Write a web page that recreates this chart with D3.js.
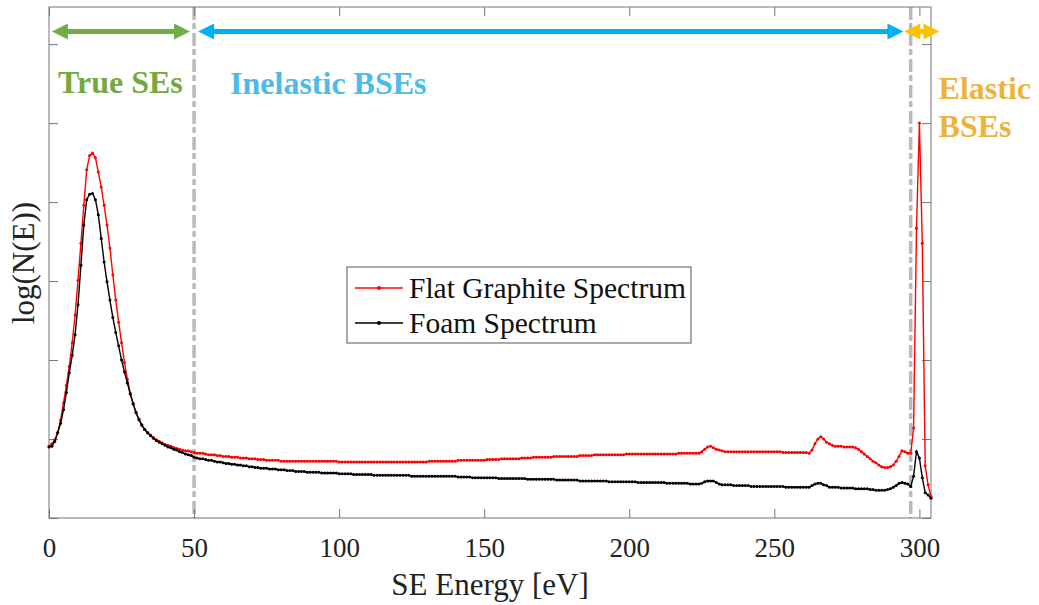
<!DOCTYPE html>
<html>
<head>
<meta charset="utf-8">
<script src="https://cdn.jsdelivr.net/npm/d3@7"></script>
<style>
  body { margin: 0; background: #fff; }
  svg { display: block; }
  text { font-family: "Liberation Serif", "Times New Roman", serif; }
</style>
</head>
<body>
<svg width="1039" height="605"></svg>
<script>
// energy grid (1 eV steps) and the two log spectra
var energy = d3.range(0, 305);

var flatGraphite = [
  0.91, 0.94, 0.99, 1.08, 1.24, 1.46, 1.68, 1.92, 2.22, 2.57,
  3.01, 3.48, 3.96, 4.41, 4.59, 4.62, 4.56, 4.38, 4.19, 3.96,
  3.71, 3.42, 3.08, 2.76, 2.48, 2.22, 1.97, 1.76, 1.58, 1.44,
  1.33, 1.24, 1.17, 1.12, 1.08, 1.05, 1.02, 0.99, 0.97, 0.95,
  0.93, 0.92, 0.91, 0.89, 0.88, 0.87, 0.86, 0.85, 0.85, 0.84,
  0.83, 0.82, 0.82, 0.82, 0.81, 0.80, 0.80, 0.80, 0.79, 0.79,
  0.78, 0.78, 0.78, 0.77, 0.77, 0.77, 0.76, 0.76, 0.76, 0.75,
  0.75, 0.75, 0.74, 0.74, 0.74, 0.73, 0.73, 0.73, 0.73, 0.73,
  0.72, 0.72, 0.72, 0.72, 0.72, 0.72, 0.72, 0.72, 0.72, 0.72,
  0.72, 0.72, 0.72, 0.72, 0.72, 0.72, 0.72, 0.72, 0.72, 0.72,
  0.71, 0.71, 0.71, 0.71, 0.71, 0.71, 0.71, 0.71, 0.71, 0.71,
  0.71, 0.71, 0.71, 0.71, 0.71, 0.71, 0.71, 0.71, 0.71, 0.71,
  0.71, 0.71, 0.71, 0.71, 0.71, 0.71, 0.71, 0.71, 0.71, 0.71,
  0.71, 0.72, 0.72, 0.72, 0.72, 0.72, 0.72, 0.72, 0.72, 0.72,
  0.72, 0.73, 0.73, 0.73, 0.73, 0.73, 0.73, 0.73, 0.73, 0.73,
  0.73, 0.74, 0.74, 0.74, 0.74, 0.74, 0.75, 0.75, 0.75, 0.75,
  0.75, 0.75, 0.75, 0.76, 0.76, 0.76, 0.76, 0.77, 0.77, 0.77,
  0.77, 0.77, 0.77, 0.77, 0.78, 0.78, 0.78, 0.78, 0.78, 0.78,
  0.78, 0.78, 0.78, 0.79, 0.79, 0.79, 0.79, 0.79, 0.80, 0.80,
  0.80, 0.80, 0.80, 0.80, 0.80, 0.80, 0.80, 0.80, 0.80, 0.81,
  0.81, 0.81, 0.81, 0.81, 0.81, 0.81, 0.81, 0.81, 0.81, 0.81,
  0.81, 0.81, 0.81, 0.81, 0.81, 0.81, 0.81, 0.82, 0.82, 0.82,
  0.82, 0.82, 0.82, 0.82, 0.82, 0.84, 0.87, 0.90, 0.91, 0.89,
  0.87, 0.86, 0.85, 0.84, 0.84, 0.84, 0.84, 0.84, 0.84, 0.84,
  0.84, 0.84, 0.84, 0.84, 0.84, 0.84, 0.84, 0.84, 0.84, 0.84,
  0.84, 0.84, 0.84, 0.83, 0.83, 0.83, 0.83, 0.83, 0.83, 0.83,
  0.83, 0.83, 0.82, 0.86, 0.94, 1.00, 1.03, 1.00, 0.96, 0.94,
  0.92, 0.91, 0.91, 0.91, 0.90, 0.90, 0.90, 0.90, 0.89, 0.87,
  0.84, 0.81, 0.78, 0.75, 0.72, 0.70, 0.67, 0.65, 0.64, 0.64,
  0.65, 0.67, 0.72, 0.78, 0.85, 0.84, 0.82, 0.82, 1.14, 3.67,
  5.00, 3.48, 0.66, 0.42, 0.27
];

var foam = [
  0.90, 0.91, 0.97, 1.08, 1.20, 1.37, 1.59, 1.84, 2.06, 2.32,
  2.70, 3.20, 3.71, 4.03, 4.10, 4.11, 4.03, 3.84, 3.54, 3.24,
  2.99, 2.76, 2.54, 2.35, 2.18, 2.00, 1.85, 1.71, 1.57, 1.45,
  1.34, 1.25, 1.18, 1.12, 1.08, 1.04, 1.01, 0.98, 0.96, 0.94,
  0.92, 0.90, 0.89, 0.87, 0.86, 0.84, 0.83, 0.81, 0.80, 0.79,
  0.77, 0.76, 0.75, 0.75, 0.74, 0.73, 0.73, 0.72, 0.71, 0.71,
  0.70, 0.69, 0.69, 0.68, 0.68, 0.67, 0.67, 0.66, 0.66, 0.65,
  0.65, 0.64, 0.64, 0.63, 0.63, 0.63, 0.62, 0.62, 0.62, 0.61,
  0.61, 0.61, 0.60, 0.60, 0.60, 0.59, 0.59, 0.59, 0.59, 0.58,
  0.58, 0.58, 0.58, 0.58, 0.57, 0.57, 0.57, 0.57, 0.57, 0.57,
  0.56, 0.56, 0.56, 0.56, 0.56, 0.55, 0.55, 0.55, 0.55, 0.55,
  0.55, 0.55, 0.54, 0.54, 0.54, 0.54, 0.54, 0.54, 0.54, 0.54,
  0.54, 0.54, 0.54, 0.54, 0.54, 0.53, 0.53, 0.53, 0.53, 0.53,
  0.53, 0.53, 0.53, 0.53, 0.53, 0.53, 0.53, 0.53, 0.53, 0.53,
  0.53, 0.52, 0.52, 0.52, 0.52, 0.52, 0.51, 0.51, 0.51, 0.51,
  0.51, 0.51, 0.51, 0.51, 0.51, 0.50, 0.50, 0.50, 0.50, 0.50,
  0.50, 0.50, 0.50, 0.50, 0.50, 0.49, 0.49, 0.49, 0.49, 0.49,
  0.49, 0.49, 0.49, 0.49, 0.49, 0.48, 0.48, 0.48, 0.48, 0.48,
  0.48, 0.48, 0.48, 0.47, 0.47, 0.47, 0.47, 0.47, 0.47, 0.47,
  0.47, 0.47, 0.47, 0.46, 0.46, 0.46, 0.46, 0.46, 0.46, 0.46,
  0.46, 0.46, 0.46, 0.45, 0.45, 0.45, 0.45, 0.45, 0.45, 0.45,
  0.45, 0.45, 0.45, 0.44, 0.44, 0.44, 0.44, 0.44, 0.44, 0.44,
  0.44, 0.43, 0.43, 0.43, 0.43, 0.44, 0.46, 0.47, 0.47, 0.47,
  0.45, 0.43, 0.42, 0.42, 0.42, 0.42, 0.41, 0.41, 0.41, 0.41,
  0.41, 0.41, 0.40, 0.40, 0.40, 0.40, 0.40, 0.40, 0.40, 0.40,
  0.40, 0.40, 0.40, 0.40, 0.39, 0.39, 0.39, 0.39, 0.39, 0.39,
  0.39, 0.39, 0.39, 0.41, 0.43, 0.44, 0.44, 0.42, 0.41, 0.39,
  0.39, 0.39, 0.39, 0.38, 0.38, 0.38, 0.38, 0.38, 0.37, 0.37,
  0.37, 0.37, 0.37, 0.36, 0.36, 0.35, 0.35, 0.35, 0.35, 0.36,
  0.37, 0.39, 0.41, 0.44, 0.45, 0.44, 0.43, 0.40, 0.53, 0.84,
  0.76, 0.51, 0.32, 0.29, 0.25
];

var xTicks = [0, 50, 100, 150, 200, 250, 300];
var yTicks = [0, 1, 2, 3, 4, 5, 6];
var regionBounds = [50, 297];   // dashed separators (eV)

var seriesNames = ["Flat Graphite Spectrum", "Foam Spectrum"];
var seriesColors = ["#ff0000", "#000000"];

var svg = d3.select("svg"),
    margin = {top: 7, right: 108, bottom: 87, left: 49},
    width = svg.attr("width") - margin.left - margin.right,
    height = svg.attr("height") - margin.top - margin.bottom,
    g = svg.append("g").attr("transform", "translate(" + margin.left + "," + margin.top + ")");

var x = d3.scaleLinear().domain([0, 304]).range([0, width]),
    y = d3.scaleLinear().domain([0, 6.47]).range([height, 0]);

var series = [flatGraphite, foam].map(function(vals, i) {
    return {
        id: seriesNames[i],
        color: seriesColors[i],
        values: energy.map(function(e, j) { return {e: e, v: vals[j]}; })
    };
});

var line = d3.line()
    .curve(d3.curveLinear)
    .x(function(d) { return x(d.e); })
    .y(function(d) { return y(d.v); });

// region separators
g.selectAll(".sep")
    .data(regionBounds)
    .enter().append("line")
    .attr("class", "sep")
    .attr("x1", function(d) { return x(d); })
    .attr("x2", function(d) { return x(d); })
    .attr("y1", 0)
    .attr("y2", height)
    .attr("stroke", "#bababa")
    .attr("stroke-width", 3.5)
    .attr("stroke-dasharray", "13,3,6,4");

// axes (ticks point inward, box around)
var tickColor = "#777";
var xAxis = g.append("g")
    .attr("transform", "translate(0," + height + ")")
    .call(d3.axisBottom(x).tickValues(xTicks).tickSizeInner(-9).tickSizeOuter(0).tickPadding(20));
g.append("g")
    .call(d3.axisTop(x).tickValues(xTicks).tickSizeInner(-9).tickSizeOuter(0).tickFormat(""));
g.append("g")
    .call(d3.axisLeft(y).tickValues(yTicks).tickSizeInner(-9).tickSizeOuter(0).tickFormat(""));
g.append("g")
    .attr("transform", "translate(" + width + ",0)")
    .call(d3.axisRight(y).tickValues(yTicks).tickSizeInner(-9).tickSizeOuter(0).tickFormat(""));

g.selectAll(".domain").remove();
g.selectAll(".tick line").attr("stroke", tickColor);
xAxis.selectAll("text")
    .style("font-family", "'Liberation Serif', 'Times New Roman', serif")
    .style("font-size", "27px")
    .attr("fill", "#222");

g.append("rect")
    .attr("width", width)
    .attr("height", height)
    .attr("fill", "none")
    .attr("stroke", tickColor)
    .attr("stroke-width", 1);

// spectra
var spec = g.selectAll(".spec")
    .data(series)
    .enter().append("g")
    .attr("class", "spec");

spec.append("path")
    .attr("d", function(d) { return line(d.values); })
    .attr("fill", "none")
    .attr("stroke", function(d) { return d.color; })
    .attr("stroke-width", 1.4);

spec.selectAll("circle")
    .data(function(d) { return d.values.map(function(p) { return {e: p.e, v: p.v, c: d.color}; }); })
    .enter().append("circle")
    .attr("r", 1.5)
    .attr("cx", function(d) { return x(d.e); })
    .attr("cy", function(d) { return y(d.v); })
    .attr("fill", function(d) { return d.c; });

// axis labels
svg.append("text")
    .attr("x", 490)
    .attr("y", 595)
    .attr("text-anchor", "middle")
    .style("font-size", "31px")
    .attr("fill", "#222")
    .text("SE Energy [eV]");

svg.append("text")
    .attr("transform", "translate(34,263) rotate(-90)")
    .attr("text-anchor", "middle")
    .style("font-size", "31px")
    .attr("fill", "#222")
    .text("log(N(E))");

// legend
var legend = svg.append("g").attr("transform", "translate(347,267)");
legend.append("rect")
    .attr("width", 344)
    .attr("height", 76)
    .attr("fill", "#fff")
    .attr("stroke", "#555")
    .attr("stroke-width", 1);

var item = legend.selectAll(".item")
    .data(series)
    .enter().append("g")
    .attr("class", "item")
    .attr("transform", function(d, i) { return "translate(0," + (21 + i * 35) + ")"; });
item.append("line")
    .attr("x1", 8).attr("x2", 56)
    .attr("stroke", function(d) { return d.color; })
    .attr("stroke-width", 1.4);
item.append("circle")
    .attr("cx", 32).attr("r", 2)
    .attr("fill", function(d) { return d.color; });
item.append("text")
    .attr("x", 62)
    .attr("y", 10)
    .style("font-size", "29.5px")
    .attr("fill", "#111")
    .text(function(d) { return d.id; });

// region annotations (double arrows + labels)
var arrowY = y(6.16);
var regions = [
    {from: 1.0, to: 48.6, color: "#70ad47"},
    {from: 51.4, to: 294.5, color: "#00b0f0"},
    {from: 294.8, to: 306.9, color: "#ffc000"}
];

function doubleArrow(x1, x2, yy) {
    var hl = 16, hw = 8, sw = 2.5;
    var len = x2 - x1;
    if (len < 2 * hl + 2) hl = (len - 2) / 2;
    return "M" + x1 + "," + yy +
        "L" + (x1 + hl) + "," + (yy - hw) +
        "L" + (x1 + hl) + "," + (yy - sw) +
        "L" + (x2 - hl) + "," + (yy - sw) +
        "L" + (x2 - hl) + "," + (yy - hw) +
        "L" + x2 + "," + yy +
        "L" + (x2 - hl) + "," + (yy + hw) +
        "L" + (x2 - hl) + "," + (yy + sw) +
        "L" + (x1 + hl) + "," + (yy + sw) +
        "L" + (x1 + hl) + "," + (yy + hw) + "Z";
}

g.selectAll(".arrow")
    .data(regions)
    .enter().append("path")
    .attr("class", "arrow")
    .attr("d", function(d) { return doubleArrow(x(d.from), x(d.to), arrowY); })
    .attr("fill", function(d) { return d.color; });

var labels = [
    {text: "True SEs", e: 3.1, v: 5.38, color: "#76a83e"},
    {text: "Inelastic BSEs", e: 62.4, v: 5.37, color: "#4cbbe9"},
    {text: "Elastic", e: 306.6, v: 5.30, color: "#edb43c"},
    {text: "BSEs", e: 306.6, v: 4.82, color: "#edb43c"}
];

g.selectAll(".region-label")
    .data(labels)
    .enter().append("text")
    .attr("class", "region-label")
    .attr("x", function(d) { return x(d.e); })
    .attr("y", function(d) { return y(d.v); })
    .style("font-size", "32px")
    .style("font-weight", "bold")
    .attr("fill", function(d) { return d.color; })
    .text(function(d) { return d.text; });
</script>
</body>
</html>
